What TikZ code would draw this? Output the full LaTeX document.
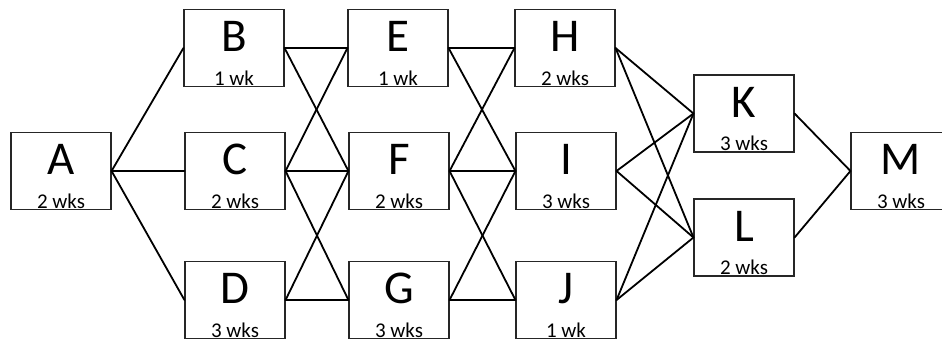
\documentclass[tikz,border=0pt]{standalone}
\usepackage{fontspec}
\setmainfont{Carlito}
\usepackage{tikz}
\usetikzlibrary{positioning}
\tikzset{
  task/.style={rectangle, draw=black!85, line width=1.1pt, fill=white,
               minimum width=100pt, minimum height=77pt, inner sep=0pt},
  letter/.style={font=\fontsize{47}{47}\selectfont, inner sep=0pt},
  dur/.style={font=\fontsize{21}{21}\selectfont, inner sep=0pt},
  link/.style={draw=black, line width=1.8pt, line cap=round}
}
% name, x, y, letter, duration
\newcommand{\tasknode}[5]{%
  \node[task,
        label={[letter, name=#1-name, yshift=11.5pt]center:#4},
        label={[dur, name=#1-dur, anchor=base, label distance=-2pt]south:#5}]
    (#1) at (#2,#3) {};
}

\begin{document}
\begin{tikzpicture}[x=1pt, y=-1pt]
  \useasboundingbox (0,0) rectangle (942,341);
  \tasknode{A}{61}{171}{A}{2 wks}
  \tasknode{B}{234}{48}{B}{1 wk}
  \tasknode{C}{235}{171}{C}{2 wks}
  \tasknode{D}{235}{300}{D}{3 wks}
  \tasknode{E}{398}{48}{E}{1 wk}
  \tasknode{F}{399}{171}{F}{2 wks}
  \tasknode{G}{399}{300}{G}{3 wks}
  \tasknode{H}{565}{48}{H}{2 wks}
  \tasknode{I}{566}{171}{I}{3 wks}
  \tasknode{J}{566}{300}{J}{1 wk}
  \tasknode{K}{744}{113.5}{K}{3 wks}
  \tasknode{L}{744}{237.5}{L}{2 wks}
  \tasknode{M}{901}{171}{M}{3 wks}

  \draw[link] (A.east)--(B.west); \draw[link] (A.east)--(C.west); \draw[link] (A.east)--(D.west);
  \draw[link] (B.east)--(E.west); \draw[link] (B.east)--(F.west);
  \draw[link] (C.east)--(E.west); \draw[link] (C.east)--(F.west); \draw[link] (C.east)--(G.west);
  \draw[link] (D.east)--(F.west); \draw[link] (D.east)--(G.west);
  \draw[link] (E.east)--(H.west); \draw[link] (E.east)--(I.west);
  \draw[link] (F.east)--(H.west); \draw[link] (F.east)--(I.west); \draw[link] (F.east)--(J.west);
  \draw[link] (G.east)--(I.west); \draw[link] (G.east)--(J.west);
  \draw[link] (H.east)--(K.west); \draw[link] (H.east)--(L.west);
  \draw[link] (I.east)--(K.west); \draw[link] (I.east)--(L.west);
  \draw[link] (J.east)--(K.west); \draw[link] (J.east)--(L.west);
  \draw[link] (K.east)--(M.west); \draw[link] (L.east)--(M.west);
\end{tikzpicture}
\end{document}
